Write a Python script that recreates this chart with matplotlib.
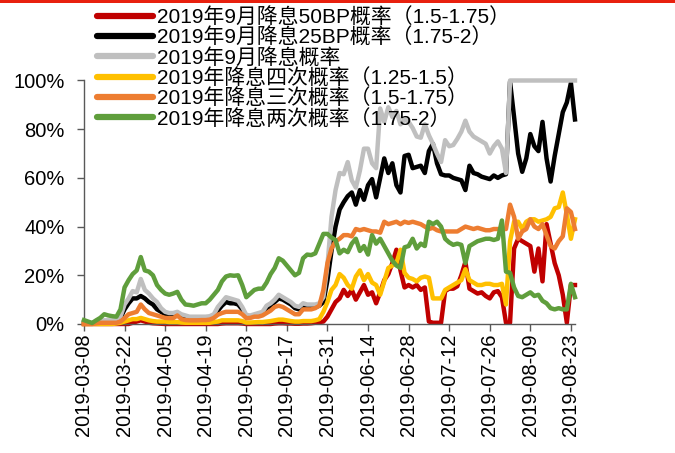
import matplotlib
matplotlib.use('Agg')
import matplotlib.pyplot as plt
import matplotlib.patches as mpatches
from matplotlib.ticker import PercentFormatter
import pandas as pd

plt.rcParams['font.family'] = ['Liberation Sans', 'Noto Sans CJK SC']
plt.rcParams['axes.unicode_minus'] = False

# 交易日序列（按类别轴等距排列）
dates = pd.bdate_range('2019-03-08', '2019-08-26')
x = list(range(len(dates)))

labels = [
    '2019年9月降息50BP概率（1.5-1.75）',
    '2019年9月降息25BP概率（1.75-2）',
    '2019年9月降息概率',
    '2019年降息四次概率（1.25-1.5）',
    '2019年降息三次概率（1.5-1.75）',
    '2019年降息两次概率（1.75-2）',
]
colors = ['#c00000', '#000000', '#bfbfbf', '#ffc000', '#ed7d31', '#5f9e3c']

# 各概率序列（%）
cut50_sep = [
    0, 0, 0, 0, 0, 0, 0, 0, 0, 0,
    0, 0, 0.5, 1.0, 1.5, 1.0, 0.5, 0.3, 0.2, 0.1,
    0, 0, 0, 0, 0, 0, 0, 0, 0, 0,
    0, 0, 0, 0, 0.2, 0.3, 0.3, 0.3, 0.3, 0.2,
    0, 0, 0, 0, 0, 0, 0, 0.2, 0.3, 0.3,
    0.2, 0.2, 0.1, 0.1, 0.2, 0.2, 0.3, 0.5, 0.8, 1.0,
    3.0, 6.0, 9.0, 10.5, 14.0, 11.5, 14.0, 10.0, 13.0, 16.0,
    12.0, 13.0, 8.5, 13.0, 18.0, 20.5, 25.0, 30.5, 22.0, 15.0,
    16.0, 15.0, 16.0, 14.0, 15.0, 1.0, 0.5, 0.5, 0.5, 13.5,
    14.5, 14.5, 15.5, 20.0, 25.5, 14.5, 13.5, 12.5, 13.0, 11.5,
    10.5, 13.0, 13.5, 11.0, 0.5, 0.5, 31.0, 35.0, 34.0, 33.0,
    32.0, 21.5, 31.0, 17.5, 41.0, 33.0, 25.0, 20.0, 12.0, 0.5,
    16.0, 16.0,
]
cut25_sep = [
    0.3, 0.3, 0.3, 0.5, 1.0, 1.0, 1.0, 1.0, 1.5, 2.5,
    6.0, 8.5, 10.5, 10.5, 11.5, 10.5, 9.0, 8.0, 6.0, 5.0,
    4.0, 3.5, 3.5, 4.0, 3.0, 2.5, 2.5, 2.5, 2.5, 2.5,
    2.5, 2.8, 3.5, 5.5, 7.5, 9.0, 8.5, 8.5, 8.0, 6.0,
    3.0, 3.0, 3.5, 4.0, 4.5, 6.5, 7.5, 9.0, 10.5, 10.0,
    9.0, 8.0, 6.5, 6.0, 7.5, 7.0, 7.0, 7.0, 7.5, 9.0,
    18.0, 30.0, 40.0, 47.0, 50.0, 52.5, 54.0, 49.0, 55.0, 51.0,
    57.0, 59.5, 52.0, 60.0, 68.0, 62.0, 66.0, 57.0, 54.0, 69.0,
    69.5, 64.0, 64.5, 65.0, 62.0, 71.0, 74.0, 66.0, 61.5, 61.0,
    61.0, 60.0, 59.5, 59.0, 55.0, 65.0, 62.0, 61.5, 60.5, 60.0,
    59.5, 61.0, 60.0, 61.0, 61.5, 99.5, 85.0, 70.0, 62.5, 68.0,
    78.0, 73.0, 71.0, 83.0, 68.0, 58.5, 69.0, 78.0, 87.0, 91.0,
    99.0, 84.0,
]
cut_sep = [
    0.5, 0.5, 0.5, 1.0, 1.5, 1.5, 1.5, 1.5, 2.0, 3.0,
    8.0, 10.5, 13.5, 13.0, 18.5, 14.0, 12.5, 10.5, 9.0, 6.5,
    5.0, 4.5, 4.5, 5.0, 4.0, 3.5, 3.0, 3.0, 3.0, 3.0,
    3.0, 3.2, 4.0, 7.0, 9.0, 11.0, 10.5, 10.0, 9.5, 7.0,
    3.7, 3.5, 4.0, 4.5, 5.0, 7.5, 8.5, 10.0, 12.0, 11.0,
    10.0, 9.0, 7.5, 7.0, 8.5, 8.0, 8.0, 8.0, 8.5, 11.0,
    24.0, 44.0, 55.0, 62.0, 61.5, 66.5, 59.0, 56.0, 63.0, 72.0,
    72.0, 66.0, 64.0, 88.5, 83.0, 89.0, 85.0, 87.5, 82.0, 84.0,
    83.0, 80.5, 77.0, 76.5, 82.0, 77.5, 74.0, 70.0, 66.5, 75.5,
    73.0, 73.5, 76.0, 79.0, 83.5, 79.0, 77.0, 76.0, 75.0, 74.0,
    70.0, 73.0, 75.0, 72.0, 62.0, 100, 100, 100, 100, 100,
    100, 100, 100, 100, 100, 100, 100, 100, 100, 100,
    100, 100,
]
cut4_2019 = [
    0, 0, 0, 0, 0, 0, 0, 0, 0.2, 0.5,
    1.0, 1.5, 2.0, 2.0, 2.5, 2.0, 1.5, 1.2, 1.0, 1.0,
    1.0, 0.8, 0.8, 0.8, 0.6, 0.5, 0.5, 0.5, 0.5, 0.5,
    0.5, 0.5, 0.8, 1.0, 1.5, 1.5, 1.5, 1.5, 1.5, 1.2,
    0.6, 0.6, 0.7, 0.8, 0.8, 1.0, 1.2, 1.5, 1.8, 1.8,
    1.5, 1.2, 1.0, 1.0, 1.2, 1.2, 1.2, 1.5, 2.0, 5.0,
    9.0, 14.0, 16.0, 20.5, 19.0, 16.0, 14.5, 19.5, 22.0, 18.0,
    20.5, 17.0, 16.0, 12.0, 17.5, 23.0, 24.0, 25.0, 30.5, 21.0,
    19.0, 18.5, 17.5, 19.0, 19.5, 19.0, 10.5, 10.5, 10.5, 14.0,
    15.0, 16.0, 17.0, 18.0, 22.5, 18.0, 17.0, 16.0, 16.0, 16.5,
    16.5, 16.0, 16.0, 16.5, 8.0, 34.0, 42.0, 42.0, 39.0, 42.0,
    43.0, 43.0, 42.0, 42.5, 43.0, 44.0, 47.5, 48.0, 54.0, 45.0,
    35.0, 43.0,
]
cut3_2019 = [
    0, 0, 0, 0.3, 0.5, 0.5, 0.5, 0.5, 0.5, 1.0,
    2.4, 4.0, 4.5, 5.0, 8.0, 6.0, 4.5, 4.0, 3.5, 3.0,
    2.5, 2.4, 2.4, 3.5, 2.0, 1.6, 1.5, 1.5, 1.5, 1.6,
    1.6, 1.8, 2.5, 3.8, 4.5, 5.0, 5.0, 5.0, 5.0, 4.0,
    2.4, 2.5, 3.0, 3.0, 3.5, 4.5, 5.5, 7.0, 7.5, 7.0,
    6.0, 5.0, 4.0, 4.0, 6.0, 6.0, 6.0, 6.5, 7.5, 14.0,
    25.0, 31.0, 34.0, 35.0, 36.5, 36.5, 36.0, 39.0, 38.5, 39.0,
    38.5, 38.0, 38.0, 37.5, 42.0, 41.0, 41.5, 42.0, 41.0, 42.0,
    41.5, 42.0, 41.5, 41.0, 40.0, 39.0, 39.5, 38.5, 38.0, 38.0,
    38.0, 38.0, 38.0, 39.0, 40.0, 39.5, 39.0, 39.5, 39.0, 38.5,
    38.5, 39.0, 39.0, 39.0, 39.0, 49.0, 44.0, 35.0, 38.0, 39.0,
    43.0, 40.0, 39.0, 41.0, 36.5, 32.0, 31.0, 34.0, 36.0, 47.5,
    46.0, 39.0,
]
cut2_2019 = [
    1.6, 1.0, 0.4, 1.5, 2.5, 4.0, 3.5, 3.2, 3.0, 6.0,
    15.0, 18.0, 20.5, 22.0, 27.5, 22.0, 21.5, 20.0, 16.0, 14.0,
    12.5, 12.0, 12.5, 13.2, 10.0, 8.0, 7.8, 7.5, 8.0, 8.5,
    8.5, 10.0, 12.0, 14.0, 17.5, 19.5, 20.0, 19.8, 20.0, 16.0,
    11.0, 12.5, 14.0, 14.5, 14.5, 17.0, 20.5, 23.0, 27.0, 26.0,
    24.0, 22.0, 20.0, 21.0, 27.0, 28.5, 28.3, 29.0, 33.0, 37.0,
    37.0, 35.5, 34.5, 29.0, 30.5, 29.5, 33.0, 35.0, 30.0, 32.0,
    28.5, 36.5, 33.0, 35.0, 32.0, 29.0, 26.0, 24.0, 23.0, 31.5,
    32.0, 35.0, 31.0, 33.0, 32.0, 42.0, 41.0, 42.0, 40.0, 35.0,
    33.5, 32.5, 33.0, 32.5, 25.0, 32.0, 33.0, 34.0, 34.5, 35.0,
    35.0, 34.5, 35.0, 42.5, 21.5, 21.0, 15.0, 11.5, 11.0, 12.0,
    13.0, 11.5, 12.0, 9.5, 8.5, 6.5, 6.0, 6.5, 6.0, 6.0,
    16.5, 11.0,
]

series = [cut50_sep, cut25_sep, cut_sep, cut4_2019, cut3_2019, cut2_2019]

fig = plt.figure(figsize=(6.75, 4.53), dpi=100)
ax = fig.add_axes([0.1244, 0.2848, 0.7274, 0.5375])

for k, (vals, lab, col) in enumerate(zip(series, labels, colors)):
    ax.plot(x, [v / 100 for v in vals], color=col, lw=3.2, label=lab,
            zorder=2 + k, solid_joinstyle='round', clip_on=False)

ax.set_ylim(0, 1)
ax.set_xlim(0, len(x) - 1)
ax.set_yticks([0, 0.2, 0.4, 0.6, 0.8, 1.0])
ax.yaxis.set_major_formatter(PercentFormatter(1.0, decimals=0))
tick_pos = x[::10][:13]
ax.set_xticks(tick_pos)
ax.set_xticklabels([dates[i].strftime('%Y-%m-%d') for i in tick_pos],
                   rotation=90)

for s in ['top', 'right']:
    ax.spines[s].set_visible(False)
for s in ['left', 'bottom']:
    ax.spines[s].set_color('#595959')
    ax.spines[s].set_linewidth(1.0)
ax.tick_params(axis='both', colors='#595959', labelcolor='black',
               labelsize=14.5, length=5, width=1.0, direction='out')
ax.tick_params(axis='y', pad=9)
ax.tick_params(axis='x', pad=2)

leg = fig.legend(loc='upper left', bbox_to_anchor=(0.143, 0.9845),
                 frameon=False, fontsize=15, handlelength=2.7,
                 handletextpad=0.19, labelspacing=0.02, borderpad=0,
                 borderaxespad=0)
for h in leg.get_lines():
    h.set_linewidth(4.5)
    h.set_solid_capstyle('round')

# 顶部红色装饰线
fig.add_artist(mpatches.Rectangle((0, 1 - 3 / 453), 1, 3 / 453,
                                  transform=fig.transFigure,
                                  color='#e8200e', lw=0))

fig.savefig('out.png', dpi=100)
